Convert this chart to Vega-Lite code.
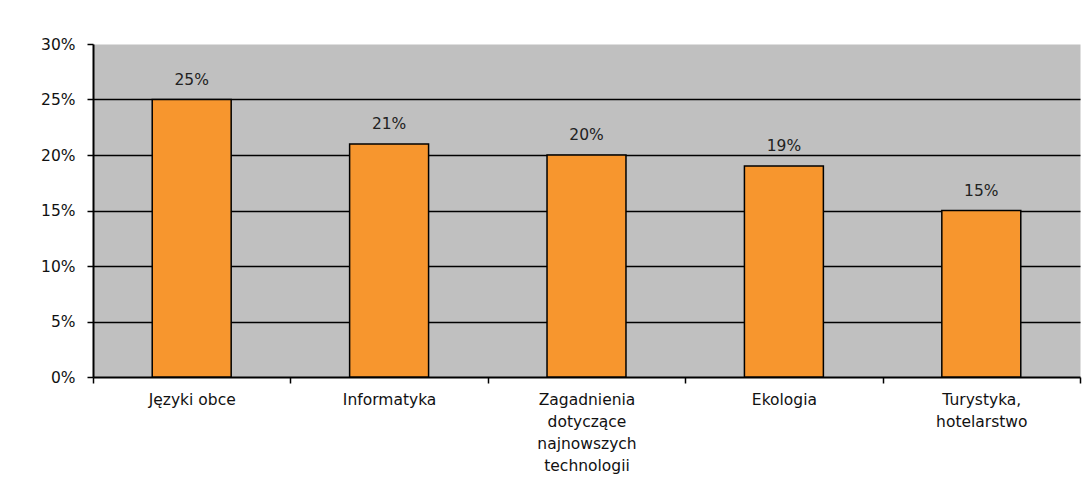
{
  "$schema": "https://vega.github.io/schema/vega-lite/v6.json",
  "width": 987,
  "height": 333,
  "autosize": {"type": "none"},
  "padding": {"left": 93, "top": 44, "right": 5, "bottom": 117},
  "background": "white",
  "config": {
    "view": {"fill": "#C0C0C0", "stroke": "transparent"},
    "font": "DejaVu Sans"
  },
  "data": {
    "values": [
      {"kategoria": "Języki obce", "wartosc": 0.25},
      {"kategoria": "Informatyka", "wartosc": 0.21},
      {"kategoria": "Zagadnienia|dotyczące|najnowszych|technologii", "wartosc": 0.20},
      {"kategoria": "Ekologia", "wartosc": 0.19},
      {"kategoria": "Turystyka,|hotelarstwo", "wartosc": 0.15}
    ]
  },
  "encoding": {
    "x": {
      "field": "kategoria",
      "type": "nominal",
      "sort": null,
      "scale": {"paddingInner": 0, "paddingOuter": 0},
      "axis": {
        "title": null,
        "labelAngle": 0,
        "labelExpr": "split(datum.label, '|')",
        "labelFontSize": 15.5,
        "labelColor": "#111",
        "labelLineHeight": 22,
        "labelBaseline": "top",
        "labelPadding": 9,
        "labelLimit": 300,
        "tickBand": "extent",
        "tickSize": 6,
        "tickColor": "black",
        "tickWidth": 1.5,
        "domainColor": "black",
        "domainWidth": 2
      }
    },
    "y": {
      "field": "wartosc",
      "type": "quantitative",
      "scale": {"domain": [0, 0.3], "nice": false},
      "axis": {
        "title": null,
        "values": [0, 0.05, 0.1, 0.15, 0.2, 0.25, 0.3],
        "format": ".0%",
        "labelFontSize": 15.5,
        "labelColor": "#111",
        "labelPadding": 12,
        "tickSize": 6,
        "tickColor": "black",
        "tickWidth": 1.5,
        "domainColor": "black",
        "domainWidth": 2,
        "grid": true,
        "gridColor": {"condition": {"test": "datum.value >= 0.3 || datum.value <= 0", "value": "transparent"}, "value": "black"},
        "gridWidth": 1.5
      }
    }
  },
  "layer": [
    {
      "mark": {"type": "bar", "width": {"band": 0.4}, "color": "#F7962E", "stroke": "black", "strokeWidth": 1.5}
    },
    {
      "mark": {"type": "text", "dy": -12, "fontSize": 15.5, "color": "#222", "baseline": "bottom"},
      "encoding": {"text": {"field": "wartosc", "type": "quantitative", "format": ".0%"}}
    }
  ]
}
